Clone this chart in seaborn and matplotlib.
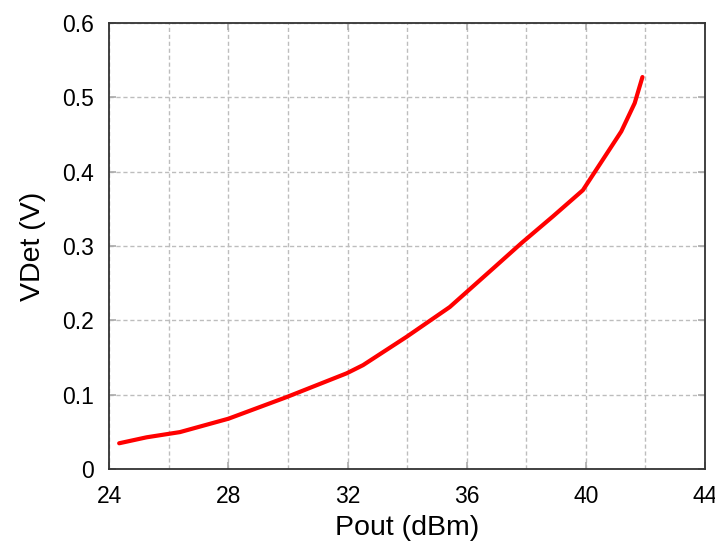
"""
Detector voltage vs output power
"""

import numpy as np
import pandas as pd
import matplotlib
matplotlib.use('Agg')
import matplotlib.pyplot as plt
from matplotlib.ticker import MultipleLocator
import seaborn as sns

# values
pout_dbm = [24.33, 25.25, 26.37, 28.0, 29.95, 31.97, 32.52, 33.98, 35.43,
            36.89, 37.84, 38.9, 39.9, 40.57, 41.19, 41.64, 41.9]
vdet_v = [0.035, 0.043, 0.050, 0.068, 0.097, 0.129, 0.140, 0.178, 0.218,
          0.270, 0.304, 0.340, 0.375, 0.416, 0.454, 0.492, 0.527]

x_ticks = [24, 28, 32, 36, 40, 44]
y_ticks = [0, 0.1, 0.2, 0.3, 0.4, 0.5, 0.6]
y_tick_labels = ['0', '0.1', '0.2', '0.3', '0.4', '0.5', '0.6']

sns.set_style('white')
plt.rcParams['font.family'] = ['Liberation Sans', 'DejaVu Sans']
plt.rcParams['text.color'] = 'black'
plt.rcParams['axes.labelcolor'] = 'black'
plt.rcParams['xtick.color'] = 'black'
plt.rcParams['ytick.color'] = 'black'

df = pd.DataFrame({'Pout': pout_dbm, 'VDet': vdet_v})

fig = plt.figure(figsize=(7.15, 5.47), dpi=100)
ax = fig.add_axes([0.1529, 0.142, 0.986 - 0.1529, 0.9585 - 0.142])

sns.lineplot(data=df, x='Pout', y='VDet', ax=ax, color='#ff0000',
             linewidth=3.0, sort=False, zorder=3)

ax.set_xlim(24, 44)
ax.set_ylim(0, 0.6)
ax.set_xticks(x_ticks)
ax.set_xticklabels([str(t) for t in x_ticks])
ax.set_yticks(y_ticks)
ax.set_yticklabels(y_tick_labels)
ax.xaxis.set_minor_locator(MultipleLocator(2))

# dashed grid every 2 dBm and every 0.1 V
ax.grid(which='both', axis='x', color='#bdbdbd', linestyle=(0, (3, 2)), linewidth=1.0)
ax.grid(which='major', axis='y', color='#bdbdbd', linestyle=(0, (3, 2)), linewidth=1.0)

for s in ax.spines.values():
    s.set_color('#333333')
    s.set_linewidth(1.3)
    s.set_visible(True)

ax.tick_params(which='major', direction='in', length=5, width=1.2, color='#aaaaaa',
               labelcolor='black', top=True, right=True, bottom=True, left=True,
               labelsize=16.5)
ax.tick_params(which='minor', direction='in', length=0)
ax.tick_params(axis='x', pad=11)
ax.tick_params(axis='y', pad=11)

ax.set_xlabel('Pout (dBm)', fontsize=20.5, labelpad=5)
ax.set_ylabel('VDet (V)', fontsize=20.5, labelpad=12)

fig.savefig('out.png', dpi=100)
